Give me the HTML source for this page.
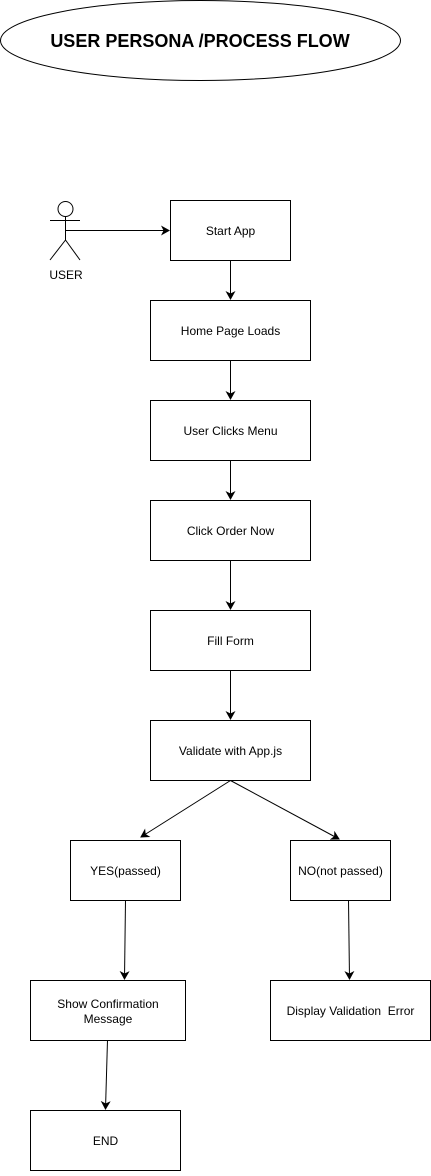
<!DOCTYPE html>
<html><head><style>body{margin:0;background:#fff}</style></head><body>
<svg width="431" height="1171" xmlns="http://www.w3.org/2000/svg" font-family="Liberation Sans, Arial, sans-serif">
<defs><marker id="a" markerWidth="10" markerHeight="10" refX="8" refY="5" orient="auto" markerUnits="userSpaceOnUse"><path d="M0,0 L9,5 L0,10 L2.5,5 z" fill="#000"/></marker></defs>
<ellipse cx="200.5" cy="40.5" rx="200" ry="40" fill="#fff" stroke="#000"/>
<text x="200" y="47" text-anchor="middle" font-size="18" font-weight="bold">USER PERSONA /PROCESS FLOW</text>
<g stroke="#000" fill="none">
<circle cx="65.5" cy="209" r="7.5" fill="#fff"/>
<line x1="65.5" y1="216.5" x2="65.5" y2="240"/>
<line x1="50" y1="220.5" x2="80" y2="220.5"/>
<line x1="65.5" y1="240" x2="50" y2="260"/>
<line x1="65.5" y1="240" x2="80" y2="260"/>
<line x1="65.5" y1="230.5" x2="169" y2="230.5" marker-end="url(#a)"/>
<rect x="170.5" y="200.5" width="120" height="60"/>
<rect x="150.5" y="300.5" width="160" height="60"/>
<rect x="150.5" y="400.5" width="160" height="60"/>
<rect x="150.5" y="500.5" width="160" height="60"/>
<rect x="150.5" y="610.5" width="160" height="60"/>
<rect x="150.5" y="720.5" width="160" height="60"/>
<rect x="70.5" y="840.5" width="110" height="60"/>
<rect x="290.5" y="840.5" width="100" height="60"/>
<rect x="30.5" y="980.5" width="155" height="60"/>
<rect x="270.5" y="980.5" width="160" height="60"/>
<rect x="30.5" y="1110.5" width="150" height="60"/>
<line x1="230.5" y1="260" x2="230.5" y2="299" marker-end="url(#a)"/>
<line x1="230.5" y1="360" x2="230.5" y2="399" marker-end="url(#a)"/>
<line x1="230.5" y1="460" x2="230.5" y2="499" marker-end="url(#a)"/>
<line x1="230.5" y1="560" x2="230.5" y2="609" marker-end="url(#a)"/>
<line x1="230.5" y1="670" x2="230.5" y2="719" marker-end="url(#a)"/>
<line x1="230.5" y1="780.5" x2="141" y2="837" marker-end="url(#a)"/>
<line x1="230.5" y1="780.5" x2="339" y2="839" marker-end="url(#a)"/>
<line x1="125.5" y1="900" x2="124.5" y2="979" marker-end="url(#a)"/>
<line x1="348.5" y1="900" x2="349.5" y2="979" marker-end="url(#a)"/>
<line x1="107.5" y1="1040" x2="105.5" y2="1109" marker-end="url(#a)"/>
</g>
<g font-size="12" text-anchor="middle">
<text x="66" y="279">USER</text>
<text x="230.5" y="235">Start App</text>
<text x="230.5" y="335">Home Page Loads</text>
<text x="230.5" y="435">User Clicks Menu</text>
<text x="230.5" y="535">Click Order Now</text>
<text x="230.5" y="645">Fill Form</text>
<text x="230.5" y="755">Validate with App.js</text>
<text x="125.5" y="875">YES(passed)</text>
<text x="340.5" y="875">NO(not passed)</text>
<text x="108" y="1008">Show Confirmation</text>
<text x="108" y="1023">Message</text>
<text x="350.5" y="1015">Display Validation&#160; Error</text>
<text x="105.5" y="1145">END</text>
</g>
</svg>
</body></html>
